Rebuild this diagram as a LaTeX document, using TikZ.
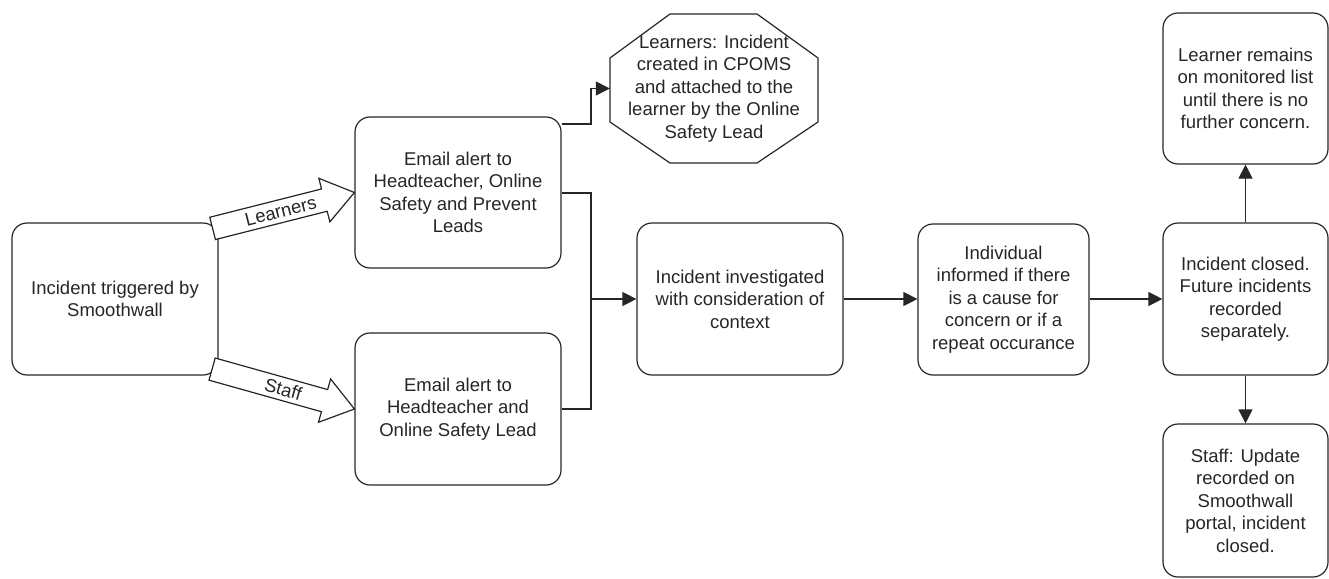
\documentclass[tikz,border=0pt]{standalone}
\usepackage{fontspec}
\setmainfont{Liberation Sans}
\usetikzlibrary{calc,arrows.meta}
\begin{document}
\begin{tikzpicture}[x=1pt,y=-1pt,
  ink/.style={draw=black!85,line width=1.2pt},
  boxnode/.style={ink,rounded corners=15pt,inner sep=0pt,align=center,text=black!85,
    font=\fontsize{18.5}{22.5}\selectfont},
  txt/.style={inner sep=0pt,align=center,text=black!85,font=\fontsize{18.5}{22.5}\selectfont},
  conn/.style={ink,-{Triangle[length=14pt,width=14pt]}},
  line/.style={ink},
  blockarr/.style={ink,fill=white,line join=miter}]
\useasboundingbox (0,0) rectangle (1329,578);

% boxes
\node[boxnode,minimum width=206pt,minimum height=152pt] (A) at (115,299) {Incident triggered by\\Smoothwall};
\node[boxnode,minimum width=206pt,minimum height=151pt] (L) at (458,192.5) {Email alert to\\Headteacher, Online\\Safety and Prevent\\Leads};
\node[boxnode,minimum width=206pt,minimum height=152pt] (S) at (458,409) {Email alert to\\Headteacher and\\Online Safety Lead};
\node[boxnode,minimum width=206pt,minimum height=152pt] (I) at (740,299) {Incident investigated\\with consideration of\\context};
\node[boxnode,minimum width=171pt,minimum height=151pt] (N) at (1003.5,299.5) {Individual\\informed if there\\is a cause for\\concern or if a\\repeat occurance};
\node[boxnode,minimum width=165pt,minimum height=152pt] (C) at (1245.5,299) {Incident closed.\\Future incidents\\recorded\\separately.};
\node[boxnode,minimum width=165pt,minimum height=151pt] (T) at (1245.5,88.5) {Learner remains\\on monitored list\\until there is no\\further concern.};
\node[boxnode,minimum width=165pt,minimum height=153pt] (B) at (1245.5,500.5) {Staff: Update\\recorded on\\Smoothwall\\portal, incident\\closed.};

% octagon
\draw[ink,line join=miter] (670,14) -- (757,14) -- (818,58) -- (818,122) -- (757,163) -- (670,163) -- (610,122) -- (610,58) -- cycle;
\node[txt,minimum width=208pt,minimum height=149pt] (O) at (714,88.5) {Learners: Incident\\created in CPOMS\\and attached to the\\learner by the Online\\Safety Lead};

% block arrows
\coordinate (la) at ($(A.north east)+(-6,6)$);
\coordinate (sa) at ($(A.south east)+(-6.5,-6.5)$);
\foreach \a/\b in {la/L.west, sa/S.west}{
  \coordinate (h) at ($(\b)!31pt!(\a)$);
  \draw[blockarr] ($(\a)!11.5pt!90:(\b)$) -- ($(h)!11.5pt!-90:(\a)$) -- ($(h)!22.5pt!-90:(\a)$)
     -- (\b) -- ($(h)!22.5pt!90:(\a)$) -- ($(h)!11.5pt!90:(\a)$) -- ($(\a)!11.5pt!-90:(\b)$) -- cycle;
}
\path (la) -- node[txt,sloped,pos=0.48] (ll) {Learners} (L.west);
\path (sa) -- node[txt,sloped,pos=0.5] (sl) {Staff} (S.west);

% connectors
\coordinate (m) at (591,299);
\draw[line] (L.east |- 0,193) -- (m |- 0,193) -- (m |- 0,409) -- (S.east |- 0,409);
\draw[conn] (m) -- (I.west);
\draw[conn] (L.east |- 0,124) -- (591,124) |- (O.west);
\draw[conn] (I.east) -- (N.west |- I.east);
\draw[conn] (N.east |- C.west) -- (C.west);
\draw[conn] (C.north) -- (T.south);
\draw[conn] (C.south) -- (B.north);
\end{tikzpicture}
\end{document}
